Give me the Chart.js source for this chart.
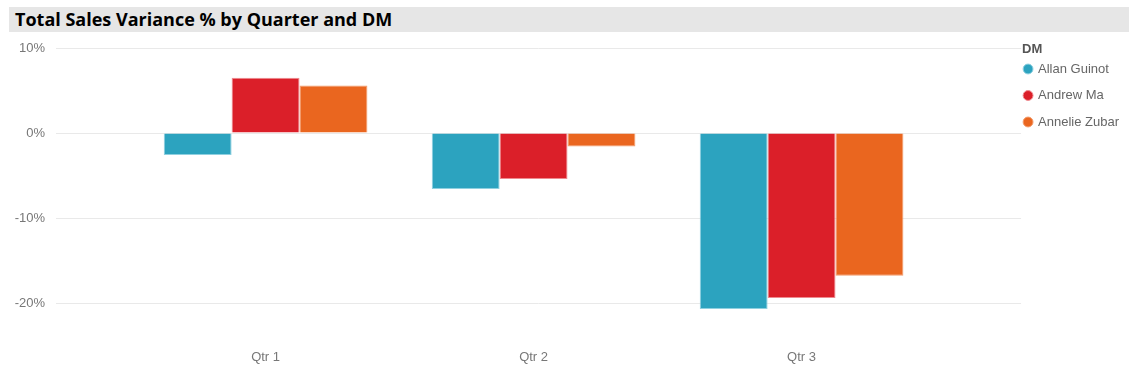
<!DOCTYPE html>
<html>
<head>
<meta charset="utf-8">
<script src="https://cdn.jsdelivr.net/npm/chart.js@4.4.1/dist/chart.umd.min.js"></script>
<style>
  html, body { margin: 0; padding: 0; background: #fff; }
  #wrap { position: relative; width: 1129px; height: 384px; }
  #titleBar {
    position: absolute; left: 9px; top: 7px; width: 1120px; height: 25px;
    background: #e6e6e6; z-index: 2;
  }
  #titleBar span {
    position: absolute; left: 6px; top: 0px;
    font: bold 18px "Open Sans", sans-serif; color: #000;
  }
  #legendTitle {
    position: absolute; left: 1022px; top: 42px; z-index: 2;
    font: bold 13px/13px "Liberation Sans", Arial, sans-serif; color: #555;
  }
  canvas { position: absolute; left: 0; top: 0; }
</style>
</head>
<body>
<div id="wrap">
  <div id="titleBar"><span>Total Sales Variance % by Quarter and DM</span></div>
  <div id="legendTitle">DM</div>
  <canvas id="chart" width="1129" height="384"></canvas>
</div>
<script>
// categorias e séries (valores em %)
const quarters = ['Qtr 1', 'Qtr 2', 'Qtr 3'];
const allanGuinot = [-2.6, -6.6, -20.7];
const andrewMa = [6.5, -5.4, -19.4];
const annelieZubar = [5.6, -1.6, -16.8];
const yTicks = [-20, -10, 0, 10];

const cores = {
  allan: '#2ca3bf',
  andrew: '#db1f29',
  annelie: '#ea661f'
};

// transforma os valores em pontos {x, y} para o eixo linear
function pontos(valores) {
  return valores.map((v, i) => ({ x: i + 1, y: v }));
}

const fonteEixo = { family: '"Liberation Sans", Arial, sans-serif', size: 13 };

// aproxima os itens da legenda da área do gráfico e desce abaixo do título "DM"
const ajusteLegenda = {
  id: 'ajusteLegenda',
  afterLayout(chart) {
    const lg = chart.legend;
    lg.left -= 10;
    lg.top += 11;
  }
};

new Chart(document.getElementById('chart'), {
  type: 'bar',
  data: {
    datasets: [
      { label: 'Allan Guinot', data: pontos(allanGuinot), backgroundColor: cores.allan, borderColor: '#8fd0e0', borderWidth: 1 },
      { label: 'Andrew Ma', data: pontos(andrewMa), backgroundColor: cores.andrew, borderColor: '#ee8a8f', borderWidth: 1 },
      { label: 'Annelie Zubar', data: pontos(annelieZubar), backgroundColor: cores.annelie, borderColor: '#f39a6a', borderWidth: 1 }
    ]
  },
  plugins: [ajusteLegenda],
  options: {
    responsive: false,
    animation: false,
    layout: { padding: { top: 38, left: 0, right: -10, bottom: 0 } },
    datasets: { bar: { categoryPercentage: 0.76, barPercentage: 1 } },
    scales: {
      x: {
        type: 'linear',
        offset: false,
        min: 0.218,
        max: 3.819,
        grid: { display: false, drawTicks: false },
        border: { display: false },
        afterBuildTicks: s => { s.ticks = quarters.map((q, i) => ({ value: i + 1 })); },
        afterFit: s => { s.height = 64; },
        ticks: {
          padding: 30,
          color: '#777',
          font: fonteEixo,
          callback: v => quarters[v - 1]
        }
      },
      y: {
        min: -22,
        max: 11.18,
        grid: { color: '#e9e9e9', drawTicks: false },
        border: { display: false },
        afterBuildTicks: s => { s.ticks = yTicks.map(v => ({ value: v })); },
        afterFit: s => { s.width = 56; },
        ticks: {
          padding: 11,
          color: '#777',
          font: fonteEixo,
          callback: v => v + '%'
        }
      }
    },
    plugins: {
      tooltip: { enabled: false },
      legend: {
        position: 'right',
        align: 'start',
        labels: {
          usePointStyle: true,
          pointStyle: 'circle',
          boxWidth: 7,
          boxHeight: 7,
          padding: 13.5,
          color: '#666',
          font: fonteEixo
        }
      }
    }
  }
});
</script>
</body>
</html>
